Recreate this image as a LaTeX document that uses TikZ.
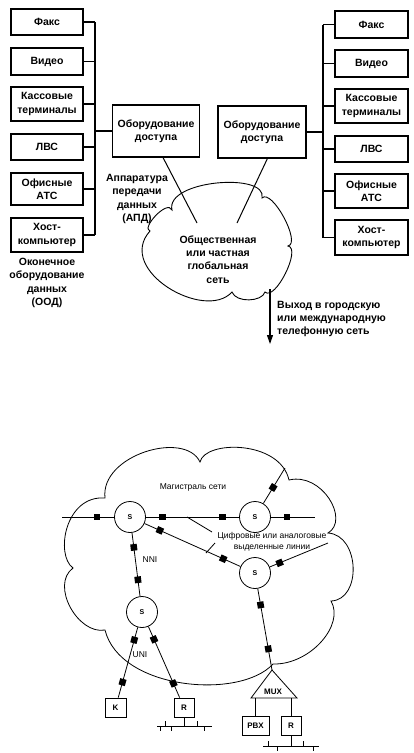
\documentclass[tikz,border=0pt]{standalone}
\usepackage{fontspec}
\setmainfont{Liberation Sans}
\usetikzlibrary{arrows.meta,calc}
\newcommand\topfnt{\bfseries\fontsize{10.5}{13.3}\selectfont}
\newcommand\botfnt{\fontsize{8.5}{10.5}\selectfont}
\begin{document}
\begin{tikzpicture}[x=1pt,y=-1pt,
  dev/.style={draw,line width=1.3pt,minimum width=72pt,inner sep=0pt,align=center,font=\topfnt},
  acc/.style={draw,line width=1.3pt,minimum width=87pt,minimum height=52pt,inner sep=0pt,align=center,font=\topfnt},
  wire/.style={line width=1.1pt},
  lbl/.style={align=center,font=\topfnt,inner sep=0pt},
  cloudline/.style={line width=0.9pt},
  net/.style={line width=0.8pt},
  sw/.style={circle,draw,line width=0.8pt,minimum size=31pt,inner sep=0pt,font=\bfseries\fontsize{7}{8}\selectfont},
  sq/.style={rectangle,fill=black,minimum size=6.5pt,inner sep=0pt,sloped},
  term/.style={draw,line width=0.8pt,minimum height=19pt,inner sep=0pt,font=\bfseries\fontsize{8}{9}\selectfont},
  blbl/.style={align=center,font=\botfnt,inner sep=0pt}]
\useasboundingbox (0,0) rectangle (414,753);

% ---------------- top diagram ----------------
% left terminal equipment
\node[dev,minimum height=26pt] (lf) at (47,22) {Факс};
\node[dev,minimum height=27pt] (lv) at (47,61.5) {Видео};
\node[dev,minimum height=34pt] (lk) at (47,104) {Кассовые\\терминалы};
\node[dev,minimum height=26pt] (ll) at (47,147) {ЛВС};
\node[dev,minimum height=32pt] (lo) at (47,189) {Офисные\\АТС};
\node[dev,minimum height=34pt] (lh) at (47,235) {Хост-\\компьютер};
\coordinate (lbt) at (95,22);
\coordinate (lbb) at (95,235);
\draw[wire] (lbt) -- (lbb);
\foreach \n in {lf,lv,lk,ll,lo,lh} \draw[wire] (\n.east) -- (\n.east -| lbt);

% right terminal equipment
\node[dev,minimum width=73pt,minimum height=27pt] (rf) at (371.5,24.5) {Факс};
\node[dev,minimum width=73pt,minimum height=27pt] (rv) at (371.5,63.5) {Видео};
\node[dev,minimum width=73pt,minimum height=34pt] (rk) at (371.5,106) {Кассовые\\терминалы};
\node[dev,minimum width=73pt,minimum height=26pt] (rl) at (371.5,149) {ЛВС};
\node[dev,minimum width=73pt,minimum height=34pt] (ro) at (371.5,191) {Офисные\\АТС};
\node[dev,minimum width=73pt,minimum height=35pt] (rh) at (371.5,237.5) {Хост-\\компьютер};
\coordinate (rbt) at (323,24.5);
\coordinate (rbb) at (323,237.5);
\draw[wire] (rbt) -- (rbb);
\foreach \n in {rf,rv,rk,rl,ro,rh} \draw[wire] (\n.west) -- (\n.west -| rbt);

% access equipment
\node[acc] (accL) at (156,131) {Оборудование\\доступа};
\node[acc,minimum width=88pt] (accR) at (262,132) {Оборудование\\доступа};
\draw[wire] (accL.west) -- (accL.west -| lbt);
\draw[wire] (accR.east) -- (accR.east -| rbt);

% cloud (public / private WAN)
\draw[cloudline] (150,231) .. controls (140.7,228.5) and (167.5,199) .. (172,210)
  .. controls (165,180) and (268,172) .. (262,198)
  .. controls (271.8,188.1) and (301.6,243.1) .. (288,246)
  .. controls (301.7,248.4) and (275,301.6) .. (265,292)
  .. controls (262,302) and (236,303) .. (232,292)
  .. controls (205,322) and (115,270) .. cycle;
\node[lbl] (wan) at (218,259.5) {Общественная\\или частная\\глобальная\\сеть};

\coordinate (cl1) at (197,223);
\coordinate (cl2) at (237,223);
\draw[net,line width=1pt] ($(accL.south west)!0.58!(accL.south east)$) -- (cl1);
\draw[net,line width=1pt] ($(accR.south west)!0.56!(accR.south east)$) -- (cl2);

\node[lbl] (ood) at (47,283) {Оконечное\\оборудование\\данных\\(ООД)};
\node[lbl] (apd) at (137,199) {Аппаратура\\передачи\\данных\\(АПД)};

\coordinate (ar1) at (270,289);
\coordinate (ar2) at (270,344);
\draw[wire,-{Triangle[length=9pt,width=6pt]}] (ar1) -- (ar2);
\node[lbl,anchor=west,align=left] (exit) at (277,319) {Выход в городскую\\или международную\\телефонную сеть};

% ---------------- bottom diagram ----------------
\draw[net] (105,498) .. controls (100,455) and (185,430) .. (200,462)
  .. controls (205,440) and (280,440) .. (289,480)
  .. controls (322,472) and (350,520) .. (328,533)
  .. controls (360,535) and (362,600) .. (331,601)
  .. controls (345,625) and (310,665) .. (273,664)
  .. controls (240,700) and (120,690) .. (105,630)
  .. controls (78,635) and (50,585) .. (73,568)
  .. controls (55,555) and (65,495) .. cycle;

\node[blbl] (mag) at (193,487) {Магистраль сети};
\node[blbl] (lines) at (272,542) {Цифровые или аналоговые\\выделенные линии};

\node[sw] (S1) at (130,517) {S};
\node[sw] (S2) at (255,517) {S};
\node[sw] (S3) at (255,573) {S};
\node[sw] (S4) at (142,612) {S};

\coordinate (w1) at (62,517);
\coordinate (e1) at (315,517);
\coordinate (ne1) at (285,468);
\coordinate (e2) at (328,543);
\coordinate (muxtop) at (272,670);
\coordinate (muxl) at (251,698);
\coordinate (muxr) at (297,698);

\draw[net] (w1) -- node[sq,pos=.67]{} (S1)
  -- node[sq,pos=.18]{} node[sq,pos=.82]{} (S2)
  -- node[sq,pos=.37]{} (e1);
\draw[net] (S2) -- node[sq,pos=.45]{} (ne1);
\draw[net] (S1) -- node[sq,pos=.16]{} node[sq,pos=.82]{} (S3);
\draw[net] (S3) -- node[sq,pos=.17]{} (e2);
\draw[net] (S3) -- node[sq,pos=.2]{} node[sq,pos=.74]{} (muxtop);
\draw[net] (S1) -- node[sq,pos=.23]{} node[sq,pos=.74]{} (S4);

\node[term,minimum width=21pt] (K) at (115.5,707.5) {K};
\node[term,minimum width=20pt] (R1) at (184,707.5) {R};
\draw[net] (S4) -- node[sq,pos=.18]{} node[sq,pos=.78]{} (K);
\draw[net] (S4) -- node[sq,pos=.18]{} node[sq,pos=.8]{} (R1);

\node[blbl] (nni) at (150,560) {NNI};
\node[blbl] (uni) at (140,655) {UNI};

% leaders to the label
\coordinate (ld1a) at (187,517);
\coordinate (ld1b) at (212,532);
\coordinate (ld2a) at (215,543);
\coordinate (ld2b) at (206,553);
\draw[net] (ld1a) -- (ld1b);
\draw[net] (ld2a) -- (ld2b);

% MUX
\draw[net] (muxtop) -- (muxl) -- (muxr) -- cycle;
\node[font=\bfseries\fontsize{8}{9}\selectfont,inner sep=0pt] (mux) at (273,691.5) {MUX};
\node[term,minimum width=27pt] (PBX) at (255.5,725.5) {PBX};
\node[term,minimum width=20pt] (R2) at (291,725.5) {R};
\draw[net] (PBX.north |- muxl) -- (PBX.north);
\draw[net] (R2.north |- muxl) -- (R2.north);

% LAN buses
\coordinate (bus1l) at (157,726);
\coordinate (bus1r) at (212,726);
\draw[net] (R1.south) -- (R1.south |- bus1l);
\draw[net] (bus1l) -- (bus1r);
\foreach \x/\d in {160/5,165/-5,171/5,197/-5,204/5}
  \draw[net] (\x,726) -- ++(0,\d);
\coordinate (bus2l) at (263,746);
\coordinate (bus2r) at (319,746);
\draw[net] (R2.south) -- (R2.south |- bus2l);
\draw[net] (bus2l) -- (bus2r);
\foreach \x/\d in {268/-5,277/5,303/-5,313/5}
  \draw[net] (\x,746) -- ++(0,\d);
\end{tikzpicture}
\end{document}
